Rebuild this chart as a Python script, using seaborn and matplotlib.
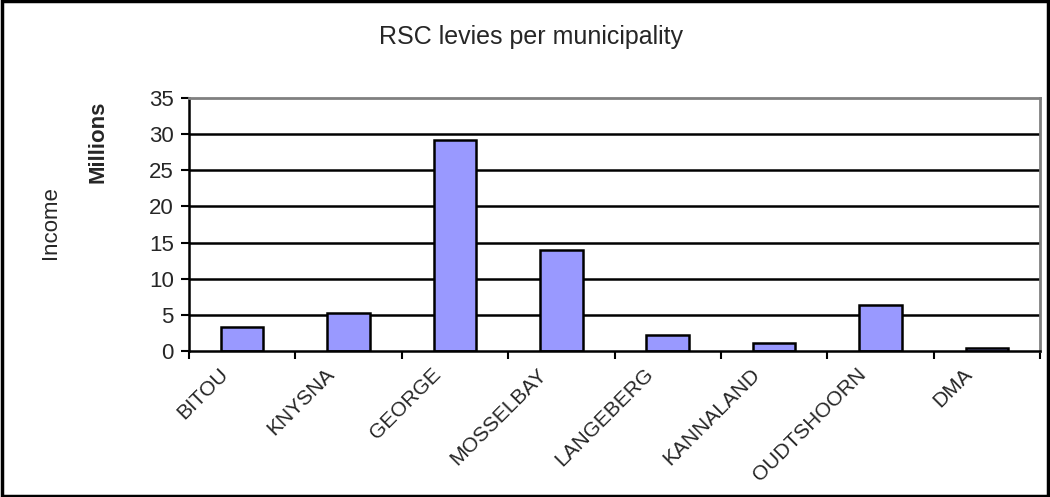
import matplotlib
matplotlib.use('Agg')
import matplotlib.pyplot as plt
import matplotlib.transforms as mtransforms
import seaborn as sns
import pandas as pd
from matplotlib.patches import Rectangle

# Datos (millones)
municipios = ['BITOU', 'KNYSNA', 'GEORGE', 'MOSSELBAY', 'LANGEBERG',
              'KANNALAND', 'OUDTSHOORN', 'DMA']
ingresos = [3.3, 5.2, 29.2, 14.0, 2.2, 1.1, 6.3, 0.4]
y_ticks = [0, 5, 10, 15, 20, 25, 30, 35]

sns.set_theme(style="white")
plt.rcParams['font.family'] = ['Liberation Sans', 'DejaVu Sans']

df = pd.DataFrame({'Municipio': municipios, 'Ingreso': ingresos})

fig = plt.figure(figsize=(10.5, 4.97), dpi=100)
ax = fig.add_axes([0.18, 0.2938, 0.8105, 0.509])

sns.barplot(data=df, x='Municipio', y='Ingreso', color='#9999FF',
            saturation=1, width=0.4, edgecolor='black', linewidth=1.8, ax=ax)

ax.set_ylim(0, 35)
ax.set_xlim(-0.5, len(municipios) - 0.5)
ax.set_yticks(y_ticks)
ax.set_yticklabels([str(t) for t in y_ticks], fontsize=16)
for t in y_ticks[1:-1]:
    ax.axhline(t, color='black', linewidth=1.8, zorder=0)

# ticks del eje x entre categorías
ax.set_xticks(range(len(municipios)))
ax.set_xticklabels(municipios, rotation=45, ha='right', rotation_mode='anchor',
                   fontsize=15)
ax.tick_params(axis='x', length=0, pad=10)
desplazar = mtransforms.ScaledTranslation(-24 / 100, 0, fig.dpi_scale_trans)
for lbl in ax.get_xticklabels():
    lbl.set_transform(lbl.get_transform() + desplazar)
ax.set_xticks([i - 0.5 for i in range(len(municipios) + 1)], minor=True)
ax.tick_params(axis='x', which='minor', length=6, width=1.5, color='black',
               direction='out', bottom=True)
ax.tick_params(axis='y', length=6, width=1.5, color='black', direction='out',
               left=True, pad=5)

ax.set_xlabel('')
ax.set_ylabel('')
for s in ['left', 'bottom']:
    ax.spines[s].set_color('black')
    ax.spines[s].set_linewidth(1.8)
for s in ['top', 'right']:
    ax.spines[s].set_color('#808080')
    ax.spines[s].set_linewidth(2)

fig.text(0.506, 0.925, 'RSC levies per municipality', ha='center', va='center',
         fontsize=18)
fig.text(0.093, 0.714, 'Millions', rotation=90, ha='center', va='center',
         fontsize=16, fontweight='bold')
fig.text(0.048, 0.553, 'Income', rotation=90, ha='center', va='center',
         fontsize=16)

# marco exterior
fig.patches.append(Rectangle((0.002, 0.003), 0.996, 0.994, transform=fig.transFigure,
                             fill=False, edgecolor='black', linewidth=2.5))

fig.savefig('out.png', dpi=100)
